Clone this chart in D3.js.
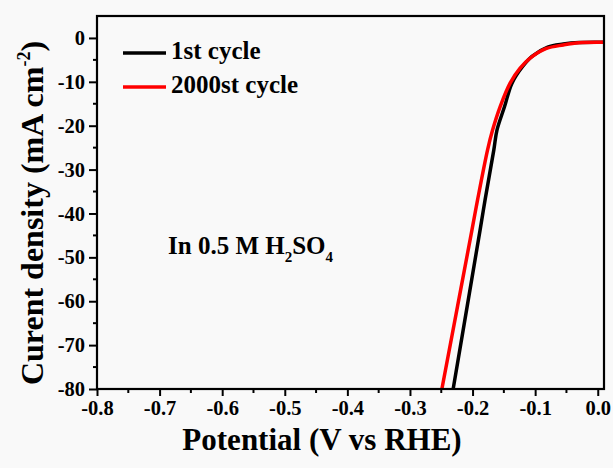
<!DOCTYPE html>
<html>
<head>
<meta charset="utf-8">
<script src="https://cdn.jsdelivr.net/npm/d3@7"></script>
<style>
  body { margin: 0; background: #f9f9f9; }
  svg text { font-family: "Liberation Serif", "Times New Roman", serif; font-weight: bold; fill: #000; }
</style>
</head>
<body>
<div id="plot"></div>
<script>
  // potential (V vs RHE) and current density (mA cm^-2)
  var cycle1V = [0.01, -0.03, -0.055, -0.08, -0.105, -0.12, -0.137, -0.149, -0.161, -0.166, -0.18, -0.188, -0.231];
  var cycle1J = [-1.0, -1.05, -1.4, -2.1, -4.2, -6.5, -10.3, -15.7, -21.0, -25.5, -36.9, -43.8, -80];
  var cycle2000V = [0.01, -0.03, -0.055, -0.082, -0.108, -0.124, -0.14, -0.156, -0.168, -0.176, -0.192, -0.201, -0.249];
  var cycle2000J = [-1.0, -1.1, -1.6, -2.4, -4.6, -6.9, -10.3, -15.7, -21.0, -25.5, -36.9, -43.8, -80];
  var xTicks = [-0.8, -0.7, -0.6, -0.5, -0.4, -0.3, -0.2, -0.1, 0.0];
  var yTicks = [0, -10, -20, -30, -40, -50, -60, -70, -80];
  var seriesNames = ["1st cycle", "2000st cycle"];
  var seriesColors = ["#000000", "#ff0000"];

  var margin = {top: 16, right: 9, bottom: 79, left: 97};
  var width = 613 - margin.left - margin.right,
      height = 468 - margin.top - margin.bottom;

  var svg = d3.select("#plot")
      .append("svg")
      .attr("width", 613)
      .attr("height", 468);

  var x = d3.scaleLinear().domain([-0.8, 0.01]).range([0, width]),
      y = d3.scaleLinear().domain([-80, 5]).range([height, 0]);

  var g = svg.append("g")
    .attr("transform", "translate(" + margin.left + "," + margin.top + ")");

  var line = d3.line()
    .x(function(d) { return x(d[0]); })
    .y(function(d) { return y(d[1]); })
    .curve(d3.curveCatmullRom.alpha(0.5));

  var series = [
    d3.zip(cycle1V, cycle1J),
    d3.zip(cycle2000V, cycle2000J)
  ];

  g.append("clipPath").attr("id", "clip")
    .append("rect").attr("width", width).attr("height", height);

  series.forEach(function(s, i) {
    g.append("path")
      .datum(s)
      .attr("clip-path", "url(#clip)")
      .attr("fill", "none")
      .attr("stroke", seriesColors[i])
      .attr("stroke-width", 3.5)
      .attr("stroke-linejoin", "round")
      .attr("d", line);
  });

  // minor ticks
  var xMinor = d3.range(-0.75, 0, 0.1);
  var yMinor = d3.range(-75, 0, 10);
  g.selectAll(".xminor").data(xMinor).enter().append("line")
    .attr("x1", function(d) { return x(d); }).attr("x2", function(d) { return x(d); })
    .attr("y1", height).attr("y2", height + 4)
    .attr("stroke", "#000").attr("stroke-width", 2);
  g.selectAll(".yminor").data(yMinor).enter().append("line")
    .attr("y1", function(d) { return y(d); }).attr("y2", function(d) { return y(d); })
    .attr("x1", 0).attr("x2", -4)
    .attr("stroke", "#000").attr("stroke-width", 2);

  var xAxis = d3.axisBottom(x).tickValues(xTicks).tickSize(7).tickPadding(4)
    .tickFormat(function(d) { return d3.format(".1f")(d).replace("\u2212", "-"); });
  var yAxis = d3.axisLeft(y).tickValues(yTicks).tickSize(8).tickPadding(4)
    .tickFormat(function(d) { return String(d); });

  var gx = g.append("g").attr("transform", "translate(0," + height + ")").call(xAxis);
  var gy = g.append("g").call(yAxis);
  [gx, gy].forEach(function(a) {
    a.attr("font-family", null).attr("font-size", null);
    a.select(".domain").remove();
    a.selectAll("line").attr("stroke", "#000").attr("stroke-width", 2);
    a.selectAll("text").style("font-size", "20.5px");
  });

  g.append("rect")
    .attr("width", width).attr("height", height)
    .attr("fill", "none").attr("stroke", "#000").attr("stroke-width", 2.2);

  // legend
  seriesNames.forEach(function(n, i) {
    var ly = 37 + i * 34;
    g.append("line")
      .attr("x1", 26).attr("x2", 69).attr("y1", ly).attr("y2", ly)
      .attr("stroke", seriesColors[i]).attr("stroke-width", 3.5);
    g.append("text")
      .attr("x", 74).attr("y", ly + 6)
      .style("font-size", "25px")
      .text(n);
  });

  // annotation
  var ann = g.append("text").attr("x", 71).attr("y", 238).style("font-size", "25px");
  ann.append("tspan").text("In 0.5 M H");
  ann.append("tspan").attr("dy", 8).style("font-size", "15px").text("2");
  ann.append("tspan").attr("dy", -8).text("SO");
  ann.append("tspan").attr("dy", 8).style("font-size", "15px").text("4");

  // axis titles
  svg.append("text")
    .attr("x", 322).attr("y", 450)
    .attr("text-anchor", "middle")
    .style("font-size", "31px")
    .text("Potential (V vs RHE)");

  var yt = svg.append("text")
    .attr("transform", "translate(43,213) rotate(-90)")
    .attr("text-anchor", "middle")
    .style("font-size", "32px");
  yt.append("tspan").text("Curent density (mA cm");
  yt.append("tspan").attr("dy", -13).style("font-size", "18px").text("-2");
  yt.append("tspan").attr("dy", 13).text(")");
</script>
</body>
</html>
